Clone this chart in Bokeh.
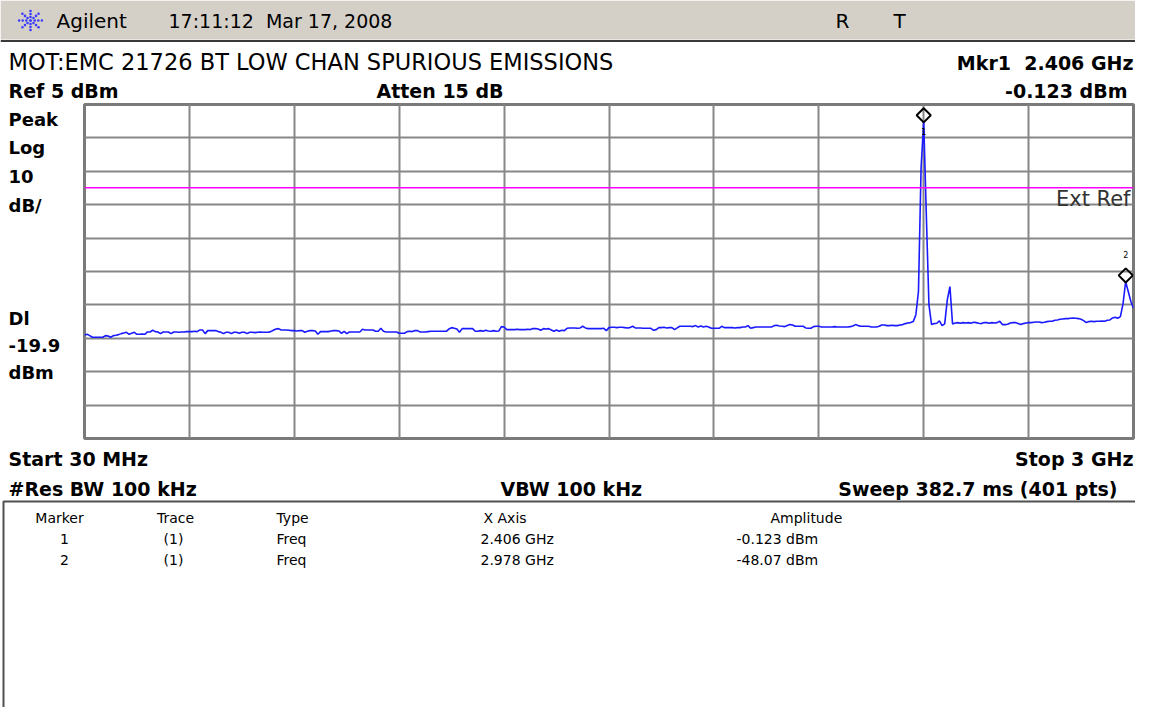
import math
import numpy as np
from bokeh.plotting import figure
from bokeh.layouts import column, row
from bokeh.models import Range1d, FixedTicker, Span
from bokeh.core.properties import value
from bokeh.embed import file_html
from bokeh.resources import INLINE

# ---------------- data ----------------
START_MHZ = 30.0
STOP_MHZ = 3000.0
N_PTS = 401
REF_DBM = 5.0
DB_PER_DIV = 10.0
N_DIV = 10
ATTEN_DB = 15
DISPLAY_LINE_DBM = -19.9

# trace 1 amplitude (dBm), 401 sweep points
amplitude_dbm = [
    -64.0, -63.8, -64.2, -64.7, -64.7, -64.7, -64.7, -64.7, -64.2, -64.3,
    -64.7, -64.2, -64.1, -63.9, -63.6, -63.4, -63.2, -63.8, -63.5, -63.2,
    -63.8, -63.8, -63.7, -63.8, -63.1, -63.1, -62.6, -63.0, -63.1, -63.6,
    -63.1, -63.1, -63.1, -63.6, -63.1, -63.1, -63.2, -63.1, -63.1, -63.0,
    -63.0, -63.0, -62.9, -63.0, -62.5, -62.5, -63.6, -62.7, -62.7, -62.7,
    -62.7, -63.0, -63.2, -63.6, -63.2, -63.2, -63.6, -63.2, -63.2, -63.5,
    -63.2, -63.2, -63.6, -63.2, -63.2, -63.3, -63.2, -63.1, -63.2, -63.2,
    -63.2, -63.0, -62.6, -62.2, -62.1, -62.5, -62.5, -62.5, -62.6, -62.7,
    -62.7, -62.8, -62.7, -62.7, -63.2, -62.9, -62.7, -62.7, -62.8, -63.8,
    -63.0, -63.0, -63.0, -63.0, -62.8, -62.7, -62.7, -62.8, -63.5, -62.9,
    -63.6, -63.1, -63.1, -63.1, -63.1, -63.1, -62.3, -62.5, -62.5, -62.5,
    -62.5, -62.9, -62.9, -62.0, -62.9, -63.1, -63.1, -63.1, -63.1, -63.1,
    -63.5, -63.5, -63.5, -63.0, -62.9, -63.0, -62.7, -62.7, -63.1, -63.1,
    -63.1, -63.0, -62.9, -62.9, -62.9, -62.9, -62.9, -62.9, -62.9, -62.2,
    -61.8, -62.0, -62.2, -63.2, -62.1, -62.1, -62.1, -62.1, -62.1, -62.9,
    -62.9, -62.7, -62.9, -62.6, -62.8, -62.9, -62.7, -62.9, -62.8, -61.5,
    -61.6, -62.4, -62.4, -62.4, -62.4, -62.3, -62.4, -62.4, -62.4, -62.3,
    -62.4, -62.1, -62.1, -62.2, -62.6, -62.1, -62.2, -62.1, -62.5, -62.9,
    -62.5, -62.9, -62.6, -62.7, -62.0, -61.9, -61.9, -61.9, -62.0, -61.9,
    -61.4, -61.9, -62.1, -62.1, -62.1, -62.1, -62.1, -62.1, -62.0, -62.7,
    -61.8, -61.7, -61.7, -61.8, -61.7, -61.7, -61.8, -61.9, -61.8, -61.4,
    -61.9, -61.9, -61.9, -62.0, -62.0, -62.0, -62.0, -62.6, -62.4, -61.8,
    -61.8, -61.7, -61.9, -61.8, -61.8, -62.4, -61.9, -61.4, -61.4, -61.4,
    -61.4, -61.4, -61.5, -61.2, -61.6, -61.3, -61.6, -61.4, -61.6, -62.0,
    -62.0, -62.0, -62.0, -61.4, -61.8, -61.8, -61.8, -61.8, -61.9, -61.8,
    -61.8, -61.6, -61.6, -61.2, -62.0, -61.8, -61.6, -61.6, -61.6, -61.6,
    -61.6, -61.6, -61.6, -61.2, -61.1, -61.3, -61.4, -61.5, -61.2, -60.9,
    -61.0, -61.4, -61.4, -61.4, -61.4, -61.9, -62.0, -62.0, -61.5, -61.4,
    -61.4, -61.6, -61.6, -61.6, -61.6, -61.6, -61.5, -61.6, -61.6, -61.6,
    -61.6, -61.6, -61.5, -61.3, -60.9, -61.2, -61.4, -61.4, -61.4, -61.4,
    -61.6, -61.6, -61.6, -61.4, -61.0, -61.0, -61.2, -61.2, -61.1, -61.2,
    -61.2, -61.0, -60.9, -60.6, -60.4, -60.3, -60.0, -58.0, -51.0, -14.0,
    -0.123, -28.0, -55.0, -60.9, -60.6, -60.5, -59.8, -61.2, -60.7, -53.5,
    -49.5, -60.7, -60.4, -60.3, -60.5, -60.3, -60.4, -60.3, -60.5, -60.2,
    -60.3, -60.5, -60.6, -60.3, -60.3, -60.5, -60.3, -60.4, -60.3, -59.9,
    -60.9, -60.9, -60.8, -60.4, -60.3, -60.3, -60.6, -60.9, -60.6, -60.4,
    -60.3, -60.3, -60.2, -60.1, -60.1, -60.3, -60.2, -60.0, -59.9, -59.9,
    -59.6, -59.5, -59.3, -59.2, -59.1, -59.1, -59.0, -58.9, -59.0, -59.1,
    -59.3, -59.7, -60.3, -60.0, -59.9, -60.0, -59.9, -59.9, -59.8, -59.9,
    -59.6, -59.5, -58.9, -58.7, -59.0, -58.5, -54.7, -48.07, -51.0, -54.0, -56.0,
]
assert len(amplitude_dbm) == N_PTS

marker_ids = ["1", "2"]
marker_traces = ["(1)", "(1)"]
marker_types = ["Freq", "Freq"]
marker_freq_ghz = [2.406, 2.978]
marker_amp_dbm = [-0.123, -48.07]

table_headers = ["Marker", "Trace", "Type", "X Axis", "Amplitude"]

title_text = "MOT:EMC 21726 BT LOW CHAN SPURIOUS EMISSIONS"
timestamp_text = "17:11:12\u00a0\u00a0Mar 17, 2008"
res_bw_text = "#Res BW 100 kHz"
vbw_text = "VBW 100 kHz"
sweep_text = "Sweep 382.7 ms (401 pts)"
left_top_labels = ["Peak", "Log", "10", "dB/"]
left_dl_labels = ["Dl", "-19.9", "dBm"]

# ---------------- style / layout ----------------
FONT = "DejaVu Sans"
TRACE_COLOR = "#1a1aff"
GRID_COLOR = "#878787"
BAR_GRAY = "#d4d0c8"
MARKER_LIFT_DB = 1.9
NB = "\u00a0"

W = 1135
H = 707
HEADER_H = 102
MID_H = 338
FOOTER_H = H - HEADER_H - MID_H
LEFT_W = 82
MAIN_W = W - LEFT_W
RIGHT_LIMIT = W - 2


def blank(width, height, xr, yr):
    f = figure(width=width, height=height, x_range=Range1d(*xr), y_range=Range1d(*yr),
               output_backend="svg", toolbar_location=None,
               x_axis_location=None, y_axis_location=None, min_border=0,
               outline_line_color=None, background_fill_color="white",
               border_fill_color="white")
    f.grid.visible = False
    return f


def txt(f, x, y, s, size, bold=False, align="left", color="#000000", baseline="middle"):
    f.text(x=[x], y=[y], text=[s], text_font=value(FONT), text_font_size=f"{size}px",
           text_font_style="bold" if bold else "normal", text_align=align,
           text_baseline=baseline, text_color=color)


# ---------------- header (coordinates = screen pixels) ----------------
header = blank(W, HEADER_H, (0, W), (HEADER_H, 0))
header.quad(left=[0], right=[W], top=[0], bottom=[39], fill_color=BAR_GRAY, line_color=None)
header.line(x=[0, W], y=[40.5, 40.5], line_color="#3a3a3a", line_width=2)
lx, ly = [], []
for k in range(8):
    a = k * math.pi / 4
    for r in (3.5, 6.5, 9.5):
        lx.append(30 + r * math.cos(a) * 1.2)
        ly.append(20 + r * math.sin(a))
header.scatter(lx, ly, size=2.6, color="#3c3cff", line_color=None)
header.scatter([30], [20], size=3, color="#3c3cff", line_color=None)
txt(header, 56, 20, "Agilent", 20)
txt(header, 168, 20, timestamp_text, 19)
txt(header, 842, 20, "R", 20, align="center")
txt(header, 899, 20, "T", 20, align="center")
txt(header, 8, 61, title_text, 22.5)
txt(header, RIGHT_LIMIT, 62, f"Mkr{marker_ids[0]}{NB}{NB}{marker_freq_ghz[0]:.3f} GHz", 19,
    bold=True, align="right")
txt(header, 8, 90, f"Ref {REF_DBM:g} dBm", 19, bold=True)
txt(header, 376, 90, f"Atten {ATTEN_DB} dB", 19, bold=True)
txt(header, 1127, 90, f"{marker_amp_dbm[0]:.3f} dBm", 19, bold=True, align="right")

# ---------------- left labels ----------------
left = blank(LEFT_W, MID_H, (0, LEFT_W), (HEADER_H + MID_H, HEADER_H))
for lab, yy in zip(left_top_labels, [117, 146, 175, 204]):
    txt(left, 8, yy, lab, 18, bold=True)
for lab, yy in zip(left_dl_labels, [319, 346, 373]):
    txt(left, 8, yy, lab, 18, bold=True)

# ---------------- main plot ----------------
freq_mhz = np.linspace(START_MHZ, STOP_MHZ, N_PTS)
bottom_db = REF_DBM - N_DIV * DB_PER_DIV
main = figure(width=MAIN_W, height=MID_H, x_range=Range1d(START_MHZ, STOP_MHZ),
              y_range=Range1d(bottom_db, REF_DBM), output_backend="svg",
              toolbar_location=None, x_axis_location=None, y_axis_location=None,
              min_border_left=2, min_border_right=2, min_border_top=2, min_border_bottom=2,
              outline_line_color="#7a7a7a", outline_line_width=3,
              background_fill_color="white", border_fill_color="white")
x_ticks = [START_MHZ + k * (STOP_MHZ - START_MHZ) / N_DIV for k in range(1, N_DIV)]
y_ticks = [REF_DBM - k * DB_PER_DIV for k in range(1, N_DIV)]
main.xgrid.ticker = FixedTicker(ticks=x_ticks)
main.ygrid.ticker = FixedTicker(ticks=y_ticks)
main.grid.grid_line_color = GRID_COLOR
main.grid.grid_line_width = 2
main.grid.grid_line_alpha = 1.0

main.add_layout(Span(location=DISPLAY_LINE_DBM, dimension="width", line_color="#ff00ff", line_width=1.5))
main.text(x=[STOP_MHZ], y=[DISPLAY_LINE_DBM], text=["Ext Ref"], text_font=value(FONT),
          text_font_size="21px", text_align="right", text_baseline="top", text_color="#333333",
          x_offset=-3, y_offset=-1)

main.line(freq_mhz, amplitude_dbm, line_color=TRACE_COLOR, line_width=1.6)

mk_x = [g * 1000 for g in marker_freq_ghz]
mk_y = [a + MARKER_LIFT_DB for a in marker_amp_dbm]
main.scatter(mk_x, mk_y, marker="square", angle=math.pi / 4, size=10, fill_color="white",
             fill_alpha=0.0, line_color="black", line_width=2)
main.text(x=[mk_x[0]], y=[marker_amp_dbm[0]], text=[marker_ids[0]], text_font=value(FONT),
          text_font_size="8px", text_align="center", text_baseline="middle", y_offset=10)
main.text(x=[mk_x[1]], y=[marker_amp_dbm[1]], text=[marker_ids[1]], text_font=value(FONT),
          text_font_size="8px", text_align="center", text_baseline="middle", y_offset=-27)

# ---------------- footer (coordinates = screen pixels) ----------------
y0 = HEADER_H + MID_H
footer = blank(W, FOOTER_H, (0, W), (H, y0))
txt(footer, 8, 458, f"Start {START_MHZ:g} MHz", 19, bold=True)
txt(footer, RIGHT_LIMIT, 458, f"Stop {STOP_MHZ / 1000:g} GHz", 19, bold=True, align="right")
txt(footer, 8, 488, res_bw_text, 19, bold=True)
txt(footer, 500, 488, vbw_text, 19, bold=True)
txt(footer, 1117, 488, sweep_text, 19, bold=True, align="right")
footer.line(x=[3, 3, W], y=[H, 501, 501], line_color="#505050", line_width=2)

hdr_pos = [(59, "center"), (175, "center"), (276, "left"), (483, "left"), (770, "left")]
for (hx, al), h in zip(hdr_pos, table_headers):
    txt(footer, hx, 517, h, 14, align=al)
val_pos = [(64, "center"), (173, "center"), (276, "left"), (480, "left"), (736, "left")]
for r, yy in enumerate([538, 559]):
    cells = [marker_ids[r], marker_traces[r], marker_types[r],
             f"{marker_freq_ghz[r]:.3f} GHz", f"{marker_amp_dbm[r]:.4g} dBm"]
    for (vx, al), c in zip(val_pos, cells):
        txt(footer, vx, yy, c, 14, align=al)

layout = column(header, row(left, main, spacing=0), footer, spacing=0)
open("out.html", "w").write(file_html(layout, INLINE))
